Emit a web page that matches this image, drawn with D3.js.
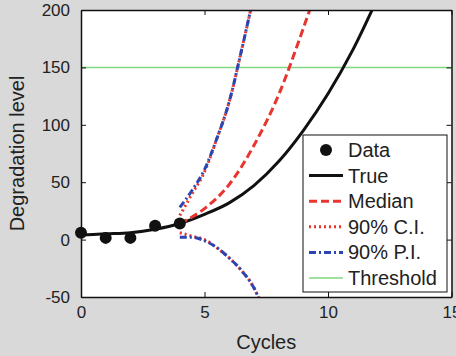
<!DOCTYPE html>
<html>
<head>
<meta charset="utf-8">
<script src="https://cdn.jsdelivr.net/npm/d3@7"></script>
<style>
  html, body { margin: 0; padding: 0; background: #d9d9d9; }
  svg { display: block; font-family: "Liberation Sans", Arial, sans-serif; }
</style>
</head>
<body>
<div id="chart"></div>
<script>
const width = 456;
const height = 356;
const margin = { top: 10, right: 4.5, bottom: 59, left: 81 };

// data
const dataX = [0, 1, 2, 3, 4];
const dataY = [6, 1.5, 1.5, 12, 14];

const trueX = [0, 1, 2, 3, 4, 5, 6, 7, 8, 9, 10, 11, 12];
const trueY = [4, 5, 6, 9, 14, 22, 32, 47, 68, 95, 127, 165, 210];

const medX = [4, 5, 6, 7, 8, 9, 9.5];
const medY = [14, 27, 48, 82, 126, 184, 215];

const ciUpX = [4, 4.5, 5, 5.5, 6, 6.5, 7];
const ciUpY = [21, 40, 59, 88, 120, 165, 213];
const piUpY = [28, 43, 61, 88, 120, 165, 213];

const loX = [4, 4.5, 5, 5.5, 6, 6.5, 7, 7.3];
const ciLoY = [6, 3, 0, -7, -16, -27, -42, -56];
const piLoY = [2, 2, -1, -7, -16, -27, -42, -56];

const threshold = 150;
const xTicks = [0, 5, 10, 15];
const yTicks = [-50, 0, 50, 100, 150, 200];

const svg = d3.select("#chart").append("svg")
    .attr("width", width)
    .attr("height", height);

svg.append("rect").attr("width", width).attr("height", height).attr("fill", "#d9d9d9");

const x = d3.scaleLinear().domain([0, 15]).range([margin.left, width - margin.right]);
const y = d3.scaleLinear().domain([-50, 200]).range([height - margin.bottom, margin.top]);

// plot area
svg.append("rect")
    .attr("x", x(0)).attr("y", y(200))
    .attr("width", x(15) - x(0)).attr("height", y(-50) - y(200))
    .attr("fill", "white");

svg.append("clipPath").attr("id", "clip")
    .append("rect")
    .attr("x", x(0)).attr("y", y(200))
    .attr("width", x(15) - x(0)).attr("height", y(-50) - y(200));

const plot = svg.append("g").attr("clip-path", "url(#clip)");

const line = d3.line().x(d => x(d[0])).y(d => y(d[1])).curve(d3.curveMonotoneX);

// threshold
plot.append("line")
    .attr("x1", x(0)).attr("x2", x(15))
    .attr("y1", y(threshold)).attr("y2", y(threshold))
    .attr("stroke", "#7fd77f").attr("stroke-width", 1.5);

const red = "#e8352e";
const blue = "#2b45b3";

// true
plot.append("path")
    .datum(trueX.map((v, i) => [v, trueY[i]]))
    .attr("d", line).attr("fill", "none")
    .attr("stroke", "#111").attr("stroke-width", 3);

// median
plot.append("path")
    .datum(medX.map((v, i) => [v, medY[i]]))
    .attr("d", line).attr("fill", "none")
    .attr("stroke", red).attr("stroke-width", 3)
    .attr("stroke-dasharray", "8,4");

// 90% C.I.
[ciUpX.map((v, i) => [v, ciUpY[i]]), loX.map((v, i) => [v, ciLoY[i]])].forEach(d => {
    plot.append("path")
        .datum(d)
        .attr("d", line).attr("fill", "none")
        .attr("stroke", red).attr("stroke-width", 3)
        .attr("stroke-dasharray", "2,3");
});

// 90% P.I.
[ciUpX.map((v, i) => [v, piUpY[i]]), loX.map((v, i) => [v, piLoY[i]])].forEach(d => {
    plot.append("path")
        .datum(d)
        .attr("d", line).attr("fill", "none")
        .attr("stroke", blue).attr("stroke-width", 3)
        .attr("stroke-dasharray", "7,3,2,3");
});

// axes (ticks inside, box on)
const tickLen = 5;
const fmt = d => String(d);
const axisB = svg.append("g").attr("transform", `translate(0,${y(-50)})`)
    .call(d3.axisBottom(x).tickValues(xTicks).tickSizeInner(-tickLen).tickSizeOuter(0).tickPadding(9).tickFormat(fmt));
const axisT = svg.append("g").attr("transform", `translate(0,${y(200)})`)
    .call(d3.axisTop(x).tickValues(xTicks).tickSizeInner(-tickLen).tickSizeOuter(0).tickFormat(""));
const axisL = svg.append("g").attr("transform", `translate(${x(0)},0)`)
    .call(d3.axisLeft(y).tickValues(yTicks).tickSizeInner(-tickLen).tickSizeOuter(0).tickPadding(11).tickFormat(fmt));
const axisR = svg.append("g").attr("transform", `translate(${x(15)},0)`)
    .call(d3.axisRight(y).tickValues(yTicks).tickSizeInner(-tickLen).tickSizeOuter(0).tickFormat(""));

[axisB, axisT, axisL, axisR].forEach(a => {
    a.select(".domain").attr("stroke", "#111").attr("stroke-width", 1.5);
    a.selectAll(".tick line").attr("stroke", "#111").attr("stroke-width", 1);
    a.selectAll("text").attr("fill", "#222").style("font-size", "17px")
        .style("font-family", "'Liberation Sans', Arial, sans-serif");
});

// data markers are not clipped (the first one straddles the axis)
svg.selectAll(".pt")
    .data(dataX.map((v, i) => [v, dataY[i]]))
    .enter().append("circle")
    .attr("cx", d => x(d[0])).attr("cy", d => y(d[1]))
    .attr("r", 6).attr("fill", "#111");

// axis labels
svg.append("text")
    .attr("x", (x(0) + x(15)) / 2).attr("y", 349)
    .attr("text-anchor", "middle")
    .attr("fill", "#222").style("font-size", "20px")
    .text("Cycles");

svg.append("text")
    .attr("transform", `translate(24,${(y(-50) + y(200)) / 2}) rotate(-90)`)
    .attr("text-anchor", "middle")
    .attr("fill", "#222").style("font-size", "20px")
    .text("Degradation level");

// legend
const legend = svg.append("g").attr("transform", "translate(303,135)");
legend.append("rect")
    .attr("width", 144).attr("height", 157)
    .attr("fill", "white").attr("stroke", "#111").attr("stroke-width", 1);

const items = [
    { label: "Data", type: "dot" },
    { label: "True", color: "#111", dash: null, w: 3 },
    { label: "Median", color: red, dash: "8,4", w: 3 },
    { label: "90% C.I.", color: red, dash: "2,3", w: 3 },
    { label: "90% P.I.", color: blue, dash: "7,3,2,3", w: 3 },
    { label: "Threshold", color: "#7fd77f", dash: null, w: 1.5 }
];

items.forEach((it, i) => {
    const cy = 15 + i * 25.6;
    if (it.type === "dot") {
        legend.append("circle").attr("cx", 23).attr("cy", cy).attr("r", 6).attr("fill", "#111");
    } else {
        legend.append("line")
            .attr("x1", 6).attr("x2", 40).attr("y1", cy).attr("y2", cy)
            .attr("stroke", it.color).attr("stroke-width", it.w)
            .attr("stroke-dasharray", it.dash);
    }
    legend.append("text")
        .attr("x", 45).attr("y", cy + 7)
        .attr("fill", "#222").style("font-size", "20px")
        .text(it.label);
});
</script>
</body>
</html>
